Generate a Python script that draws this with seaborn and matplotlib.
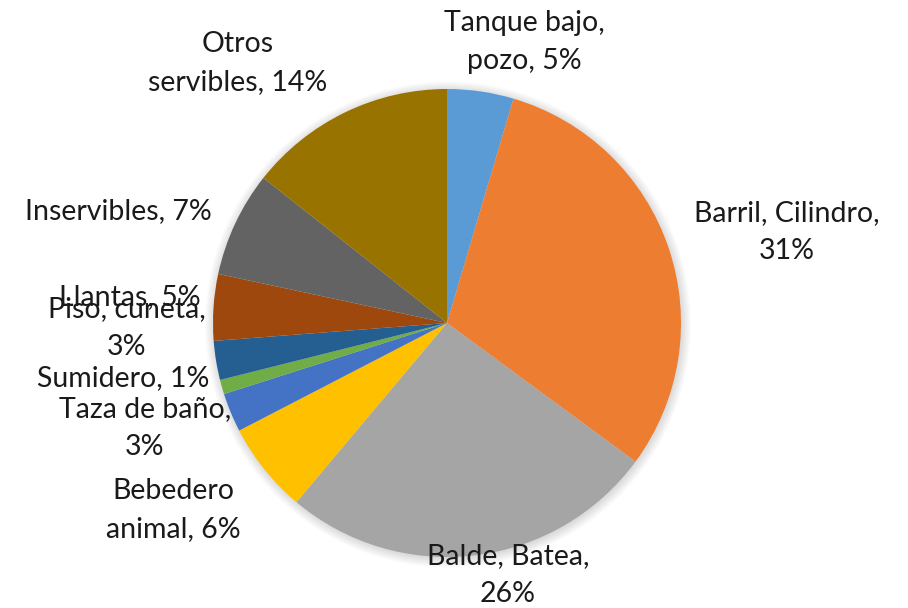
import numpy as np
import matplotlib
matplotlib.use("Agg")
import matplotlib.pyplot as plt
import seaborn as sns
from matplotlib.patches import Circle

# ---- data ----
categories = ["Tanque bajo,\npozo", "Barril, Cilindro,\n", "Balde, Batea,\n", "Bebedero\nanimal",
              "Taza de baño,\n", "Sumidero", "Piso, cuneta,\n", "Llantas", "Inservibles",
              "Otros\nservibles"]
values = [4.6, 30.6, 26.1, 6.3, 2.7, 1.0, 2.7, 4.6, 7.3, 14.4]
colors = ["#5B9BD5", "#ED7D31", "#A5A5A5", "#FFC000", "#4472C4", "#70AD47",
          "#255E91", "#9E480E", "#636363", "#997300"]

# label centres in pixel coords of the 908x608 image
label_px = [(524, 42), (787, 232), (508, 575), (173, 510), (145, 428),
            (123, 378), (127, 328), (130, 297), (118, 211), (238, 63)]

sns.set_theme(style="white")
plt.rcParams['font.family'] = ['Lato', 'DejaVu Sans']

W, H = 908, 608
fig = plt.figure(figsize=(W / 100, H / 100), dpi=100)
ax = fig.add_axes([0, 0, 1, 1])
cx, cy, R = 447, 323, 234

# soft shadow
for i in range(12):
    ax.add_patch(Circle((0.004, -0.006), 1 + 0.0035 * i, color="black",
                        alpha=0.012, lw=0, zorder=0))

ax.pie(values, colors=colors, startangle=90, counterclock=False,
       radius=1, center=(0, 0), wedgeprops=dict(linewidth=0),
       normalize=True)

total = sum(values)
for cat, v, (px, py) in zip(categories, values, label_px):
    pct = int(v / total * 100 + 0.5)
    if cat.endswith("\n"):
        txt = f"{cat}{pct}%"
    else:
        txt = f"{cat}, {pct}%"
    ax.text((px - cx) / R, (cy - py) / R, txt, ha="center", va="center",
            fontsize=20.5, color="#1a1a1a", linespacing=1.55, zorder=5)

ax.set_xlim((0 - cx) / R, (W - cx) / R)
ax.set_ylim((cy - H) / R, (cy - 0) / R)
ax.set_aspect("auto")
ax.axis("off")
fig.savefig("out.png", dpi=100, facecolor="white")
